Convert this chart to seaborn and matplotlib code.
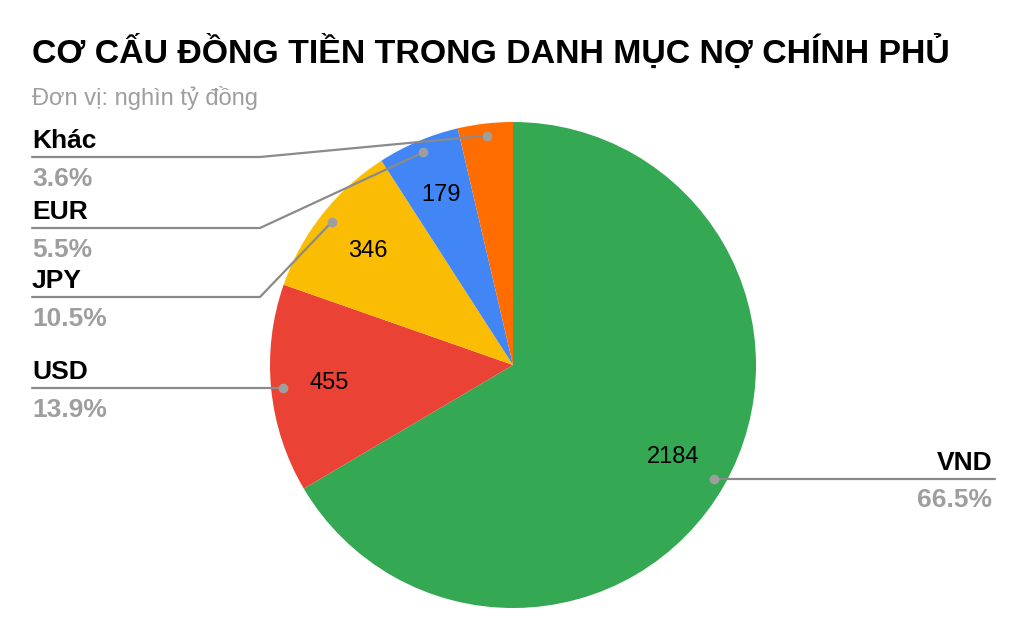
import numpy as np
import matplotlib
matplotlib.use("Agg")
import matplotlib.pyplot as plt
import seaborn as sns

# data (nghìn tỷ đồng)
currencies = ["VND", "USD", "JPY", "EUR", "Khác"]
amounts = [2184, 455, 346, 179, 120]
percents = ["66.5%", "13.9%", "10.5%", "5.5%", "3.6%"]
show_value = [True, True, True, True, False]
slice_colors = ["#34A853", "#EA4335", "#FBBC04", "#4285F4", "#FF6D01"]

title = "CƠ CẤU ĐỒNG TIỀN TRONG DANH MỤC NỢ CHÍNH PHỦ"
subtitle = "Đơn vị: nghìn tỷ đồng"

sns.set_theme(style="white")
plt.rcParams['font.family'] = ['Liberation Sans', 'DejaVu Sans']

W, H = 1020, 631
fig = plt.figure(figsize=(W / 100, H / 100), dpi=100)
ax = fig.add_axes([0, 0, 1, 1])

def Y(py):
    # pixel row (from top) -> data y
    return H - py

cx, cy, R = 513, Y(365), 243
palette = sns.color_palette(slice_colors)

wedges, _ = ax.pie(amounts, colors=palette, startangle=90, counterclock=False,
                   center=(cx, cy), radius=R, wedgeprops=dict(linewidth=0))

ax.set_xlim(0, W)
ax.set_ylim(0, H)
ax.set_aspect('equal')
ax.axis('off')

line_col = "#8a8a8a"
dot_col = "#9e9e9e"
pct_col = "#9e9e9e"

# where each leader line ends up (pixel rows), label side
label_rows = {"Khác": 157, "EUR": 228, "JPY": 297, "USD": None, "VND": None}
elbow_x = 260
left_x = 32
right_x = 995

for w, name, pct, show in zip(wedges, currencies, percents, show_value):
    mid = np.deg2rad((w.theta1 + w.theta2) / 2)
    dx, dy = np.cos(mid), np.sin(mid)
    # value inside the slice
    if show:
        ax.text(cx + 0.76 * R * dx, cy + 0.76 * R * dy, str(amounts[currencies.index(name)]),
                ha='center', va='center', fontsize=17, color='black')
    # leader dot
    px, py = cx + 0.95 * R * dx, cy + 0.95 * R * dy
    ax.plot(px, py, 'o', color=dot_col, markersize=6, zorder=5)
    if dx > 0:
        ly = py
        ax.plot([px, right_x], [ly, ly], color=line_col, lw=1.6, zorder=4)
        ax.text(right_x - 3, ly + 9, name, ha='right', va='baseline',
                fontsize=19, fontweight='bold', color='black')
        ax.text(right_x - 3, ly - 28, pct, ha='right', va='baseline',
                fontsize=19, fontweight='bold', color=pct_col)
    else:
        row = label_rows[name]
        if row is None:
            ly = py
            ax.plot([px, left_x], [ly, ly], color=line_col, lw=1.6, zorder=4)
        else:
            ly = Y(row)
            ax.plot([px, elbow_x, left_x], [py, ly, ly], color=line_col, lw=1.6, zorder=4)
        ax.text(left_x, ly + 9, name, ha='left', va='baseline',
                fontsize=19, fontweight='bold', color='black')
        ax.text(left_x, ly - 29, pct, ha='left', va='baseline',
                fontsize=19, fontweight='bold', color=pct_col)

ax.text(32, Y(63), title, ha='left', va='baseline', fontsize=24.4,
        fontweight='bold', color='black')
ax.text(32, Y(105), subtitle, ha='left', va='baseline', fontsize=17,
        color='#9e9e9e')

fig.savefig("out.png", dpi=100)
